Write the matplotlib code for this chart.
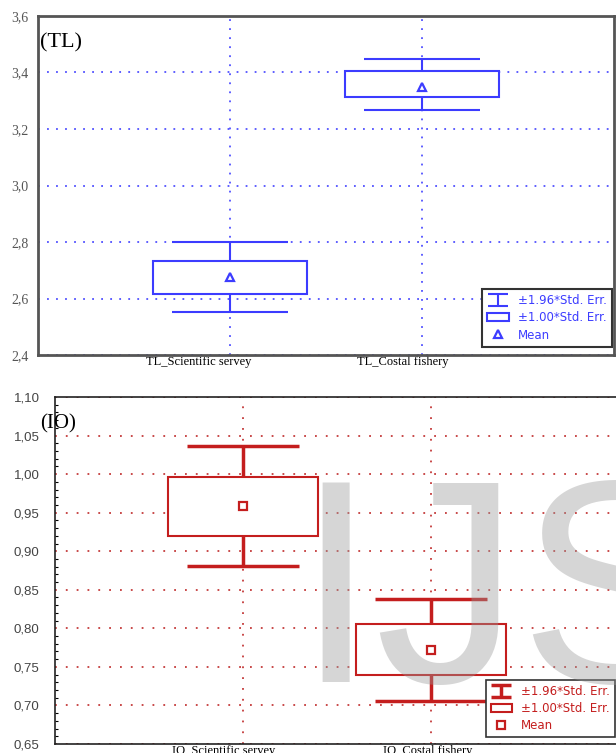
import numpy as np
import matplotlib.pyplot as plt
from matplotlib.ticker import FuncFormatter, MultipleLocator
from matplotlib.transforms import ScaledTranslation

# datos
pos = np.array([1, 2])

tl_labels = ['TL_Scientific servey', 'TL_Costal fishery']
tl_mean = np.array([2.675, 3.350])
tl_box_lo = np.array([2.616, 3.313])
tl_box_hi = np.array([2.734, 3.405])
tl_whisk_lo = np.array([2.552, 3.267])
tl_whisk_hi = np.array([2.800, 3.448])

io_labels = ['IO_Scientific servey', 'IO_Costal fishery']
io_mean = np.array([0.9585, 0.772])
io_box_lo = np.array([0.920, 0.740])
io_box_hi = np.array([0.9965, 0.805])
io_whisk_lo = np.array([0.881, 0.706])
io_whisk_hi = np.array([1.037, 0.8385])

legend_txt = ['±1.96*Std. Err.', '±1.00*Std. Err.', 'Mean']


def coma(fmt):
    return FuncFormatter(lambda v, p: (fmt % v).replace('.', ','))


def panel(ax, mean, blo, bhi, wlo, whi, color, lw_wh, marker, grid_col, grid_ls):
    ax.set_axisbelow(True)
    ax.grid(True, color=grid_col, linestyle=grid_ls, linewidth=1.3)
    ax.vlines(pos, wlo, whi, color=color, lw=lw_wh, zorder=2)
    ax.hlines(wlo, pos - 0.3, pos + 0.3, color=color, lw=lw_wh, zorder=2)
    ax.hlines(whi, pos - 0.3, pos + 0.3, color=color, lw=lw_wh, zorder=2)
    bars = ax.bar(pos, bhi - blo, bottom=blo, width=0.8, facecolor='white',
                  edgecolor=color, linewidth=1.5, zorder=3)
    mline, = ax.plot(pos, mean, ls='none', marker=marker, ms=6, mfc='white',
                     mec=color, mew=1.6, zorder=4)
    ebar = ax.errorbar([np.nan], [np.nan], yerr=[[0.1], [0.1]], fmt='none',
                       ecolor=color, elinewidth=lw_wh, capsize=7, capthick=lw_wh)
    ax.set_xlim(0, 3)
    ax.set_xticks(pos)
    return ebar, bars, mline


def shift_labels(ax, offsets_px):
    for lab, dx in zip(ax.get_xticklabels(), offsets_px):
        lab.set_transform(lab.get_transform() + ScaledTranslation(dx / 100, 0, fig.dpi_scale_trans))


fig = plt.figure(figsize=(6.16, 7.53), dpi=100)

# ---------- (TL) ----------
ax1 = fig.add_axes([38 / 616, 1 - 355 / 753, 576 / 616, 339 / 753])
blue = '#3c3cff'
h1 = panel(ax1, tl_mean, tl_box_lo, tl_box_hi, tl_whisk_lo, tl_whisk_hi,
           blue, 1.5, '^', '#5050ff', (0, (1, 4)))
ax1.set_ylim(2.4, 3.6)
ax1.yaxis.set_major_locator(MultipleLocator(0.2))
ax1.yaxis.set_major_formatter(coma('%.1f'))
ax1.set_xticklabels(tl_labels, family='Liberation Serif', fontsize=9)
for lab in ax1.get_yticklabels():
    lab.set_family('Liberation Serif')
ax1.tick_params(axis='y', length=0, pad=7, labelsize=10, labelcolor='#555555')
ax1.tick_params(axis='x', length=0, pad=1)
shift_labels(ax1, [-31, -19])
for s in ax1.spines.values():
    s.set_color('#555555')
    s.set_linewidth(2)
ax1.text(0.004, 0.95, '(TL)', transform=ax1.transAxes, va='top', ha='left',
         family='Liberation Serif', fontsize=16)
leg1 = ax1.legend(h1, legend_txt, loc='lower right', bbox_to_anchor=(0.997, 0.024),
                  borderaxespad=0, fancybox=False, framealpha=1, edgecolor='#333333',
                  fontsize=8.5, labelcolor=blue, handlelength=1.8, borderpad=0.45,
                  labelspacing=0.35)
leg1.get_frame().set_linewidth(1.5)

# ---------- (IO) ----------
ax2 = fig.add_axes([55 / 616, 9 / 753, 564 / 616, 347 / 753])
red = '#c41e1e'
h2 = panel(ax2, io_mean, io_box_lo, io_box_hi, io_whisk_lo, io_whisk_hi,
           red, 2.5, 's', '#c43a3a', (0, (1, 5)))
ax2.set_ylim(0.65, 1.10)
ax2.yaxis.set_major_locator(MultipleLocator(0.05))
ax2.yaxis.set_minor_locator(MultipleLocator(0.01))
ax2.yaxis.set_major_formatter(coma('%.2f'))
ax2.set_xticklabels(io_labels, family='Liberation Serif', fontsize=9)
for lab in ax2.get_yticklabels():
    lab.set_family('Liberation Sans')
ax2.tick_params(axis='y', which='major', length=0, pad=11, labelsize=9.5,
                labelcolor='#444444')
ax2.tick_params(axis='y', which='minor', direction='in', length=2.5, width=0.8)
ax2.tick_params(axis='x', length=0, pad=1)
shift_labels(ax2, [-19, -3])
for s in ax2.spines.values():
    s.set_color('#222222')
    s.set_linewidth(1.2)
ax2.text(-0.027, 0.95, '(IO)', transform=ax2.transAxes, va='top', ha='left',
         family='Liberation Serif', fontsize=15)
leg2 = ax2.legend(h2, legend_txt, loc='lower left', bbox_to_anchor=(0.764, 0.02),
                  borderaxespad=0, fancybox=False, framealpha=1, edgecolor='#333333',
                  fontsize=8.5, labelcolor=red, handlelength=1.8, borderpad=0.4,
                  labelspacing=0.35)
leg2.get_frame().set_linewidth(1.2)

# marca de agua
fig.text(295 / 616, 1 - 682 / 753, 'IJS', family='Liberation Sans', fontsize=208,
         va='baseline', ha='left', color='#999999', alpha=0.4, zorder=10)

fig.savefig('out.png', dpi=100)
